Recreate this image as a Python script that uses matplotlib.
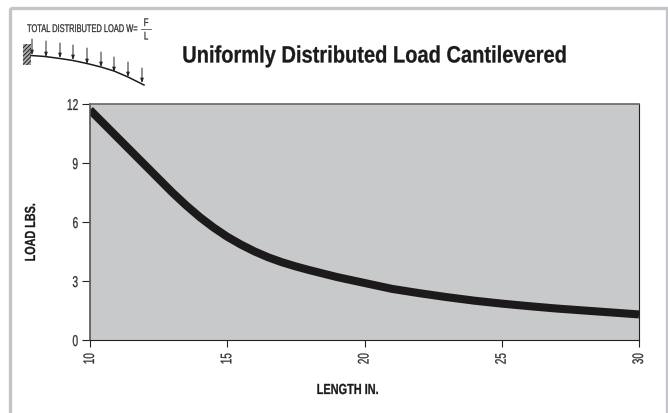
import matplotlib
matplotlib.use("Agg")
import matplotlib.pyplot as plt
from matplotlib.patches import Rectangle
from matplotlib.patheffects import AbstractPathEffect
from matplotlib.transforms import Affine2D

W, H = 668, 413
plt.rcParams["font.family"] = ["Liberation Sans", "DejaVu Sans"]
plt.rcParams["hatch.linewidth"] = 0.7

# values
length_in = [10, 10.5, 11, 11.5, 12, 12.5, 13, 13.5, 14, 14.5, 15, 15.5, 16, 16.5, 17, 17.5, 18, 19, 20, 21, 22, 23, 24, 25, 26, 27, 28, 29, 30]
load_lbs = [11.7, 11.0, 10.3, 9.6, 8.9, 8.2, 7.5, 6.85, 6.25, 5.72, 5.25, 4.85, 4.5, 4.2, 3.95, 3.74, 3.55, 3.2, 2.9, 2.6, 2.38, 2.18, 2.0, 1.85, 1.72, 1.6, 1.5, 1.4, 1.3]
x_ticks = [10, 15, 20, 25, 30]
y_ticks = [0, 3, 6, 9, 12]

# beam sketch, in image pixels
beam_x = [31, 45, 60, 73, 87, 101, 114, 128, 144]
beam_y = [55.5, 56.5, 58.5, 60.5, 63.5, 67, 71, 77, 85]
arrow_x = [32, 46, 60, 73, 87, 101, 114, 128, 142]
arrow_top = [39, 41, 43, 45, 48, 52, 57, 62, 68]
arrow_tip = [55, 57, 58, 60, 64, 67, 72, 77, 83]


class Squeeze(AbstractPathEffect):
    # no condensed font here, so narrow the glyphs around a point of the text box
    def __init__(self, sx=1.0, sy=1.0, fx=0.5, fy=0.5, stroke=0.2):
        super().__init__()
        self.sx, self.sy, self.fx, self.fy, self.stroke = sx, sy, fx, fy, stroke

    def draw_path(self, renderer, gc, tpath, affine, rgbFace=None):
        box = affine.transform_path(tpath).get_extents()
        px = box.x0 + self.fx * box.width
        py = box.y0 + self.fy * box.height
        squeeze = Affine2D().translate(-px, -py).scale(self.sx, self.sy).translate(px, py)
        gc.set_snap(False)
        gc.set_linewidth(self.stroke)
        renderer.draw_path(gc, tpath, affine + squeeze, rgbFace)


fig = plt.figure(figsize=(W / 100, H / 100), dpi=100, facecolor="white")

# page overlay using pixel coords
page = fig.add_axes([0, 0, 1, 1])
page.set_xlim(0, W)
page.set_ylim(H, 0)
page.axis("off")
page.add_patch(Rectangle((9.5, 7.5), 657.5, 420, fill=False, edgecolor="#c4c5c9", linewidth=2.4))

page.text(182, 62.5, "Uniformly Distributed Load Cantilevered", fontsize=17, fontweight="bold",
          color="#1c1a1b", va="baseline", ha="left",
          path_effects=[Squeeze(sx=0.85, fx=0)])

page.text(27, 32, "TOTAL DISTRIBUTED LOAD W=", fontsize=8, color="#333333", va="baseline", ha="left",
          path_effects=[Squeeze(sx=0.67, fx=0)])
page.text(146, 23, "F", fontsize=8, color="#333333", va="center", ha="center", path_effects=[Squeeze(sx=0.7)])
page.text(146, 36.5, "L", fontsize=8, color="#333333", va="center", ha="center", path_effects=[Squeeze(sx=0.7)])
page.plot([141, 151], [29, 29], color="#555555", lw=0.6)

page.add_patch(Rectangle((23, 44), 8, 21, facecolor="#aaaaaa", edgecolor="#222222", hatch="////////", linewidth=0))
page.plot(beam_x, beam_y, color="#1c1a1b", lw=1.1)
for ax_, top, tip in zip(arrow_x, arrow_top, arrow_tip):
    page.annotate("", xy=(ax_, tip), xytext=(ax_, top),
                  arrowprops=dict(arrowstyle="-|>,head_width=0.09,head_length=0.25", color="#222222",
                                  lw=0.7, shrinkA=0, shrinkB=0))

# main chart
left, right, top, bottom = 90, 639, 104, 340
ax = fig.add_axes([left / W, 1 - bottom / H, (right - left) / W, (bottom - top) / H])
ax.set_facecolor("#c8c9cb")
ax.plot(length_in, load_lbs, color="#1c1a1b", lw=5.8, solid_capstyle="butt", solid_joinstyle="round")
ax.set_xlim(10, 30)
ax.set_ylim(0, 12)
ax.set_xticks(x_ticks)
ax.set_yticks(y_ticks)
ax.tick_params(axis="x", length=5, width=0.8, color="#222222", labelsize=11, labelcolor="#333333", labelrotation=90, pad=4.3)
ax.tick_params(axis="y", length=5.8, width=0.8, color="#222222", labelsize=11.3, labelcolor="#333333", pad=2.5)
for lab in ax.get_xticklabels():
    lab.set_path_effects([Squeeze(sy=0.65, fy=1)])
for lab in ax.get_yticklabels():
    lab.set_path_effects([Squeeze(sx=0.65, fx=1)])
for side in ax.spines:
    ax.spines[side].set_linewidth(0.8)
    ax.spines[side].set_color("#222222")
ax.spines["top"].set_color("#666666")
ax.spines["top"].set_linewidth(1.2)
ax.spines["left"].set_color("#555555")
ax.spines["left"].set_linewidth(1.2)

page.text(31, 232, "LOAD LBS.", fontsize=10.5, fontweight="bold", rotation=90, color="#1c1a1b", va="center", ha="center",
          path_effects=[Squeeze(sy=0.74)])
page.text(348, 390, "LENGTH IN.", fontsize=10.5, fontweight="bold", color="#1c1a1b", va="center", ha="center",
          path_effects=[Squeeze(sx=0.75)])

fig.savefig("out.png", dpi=100)
